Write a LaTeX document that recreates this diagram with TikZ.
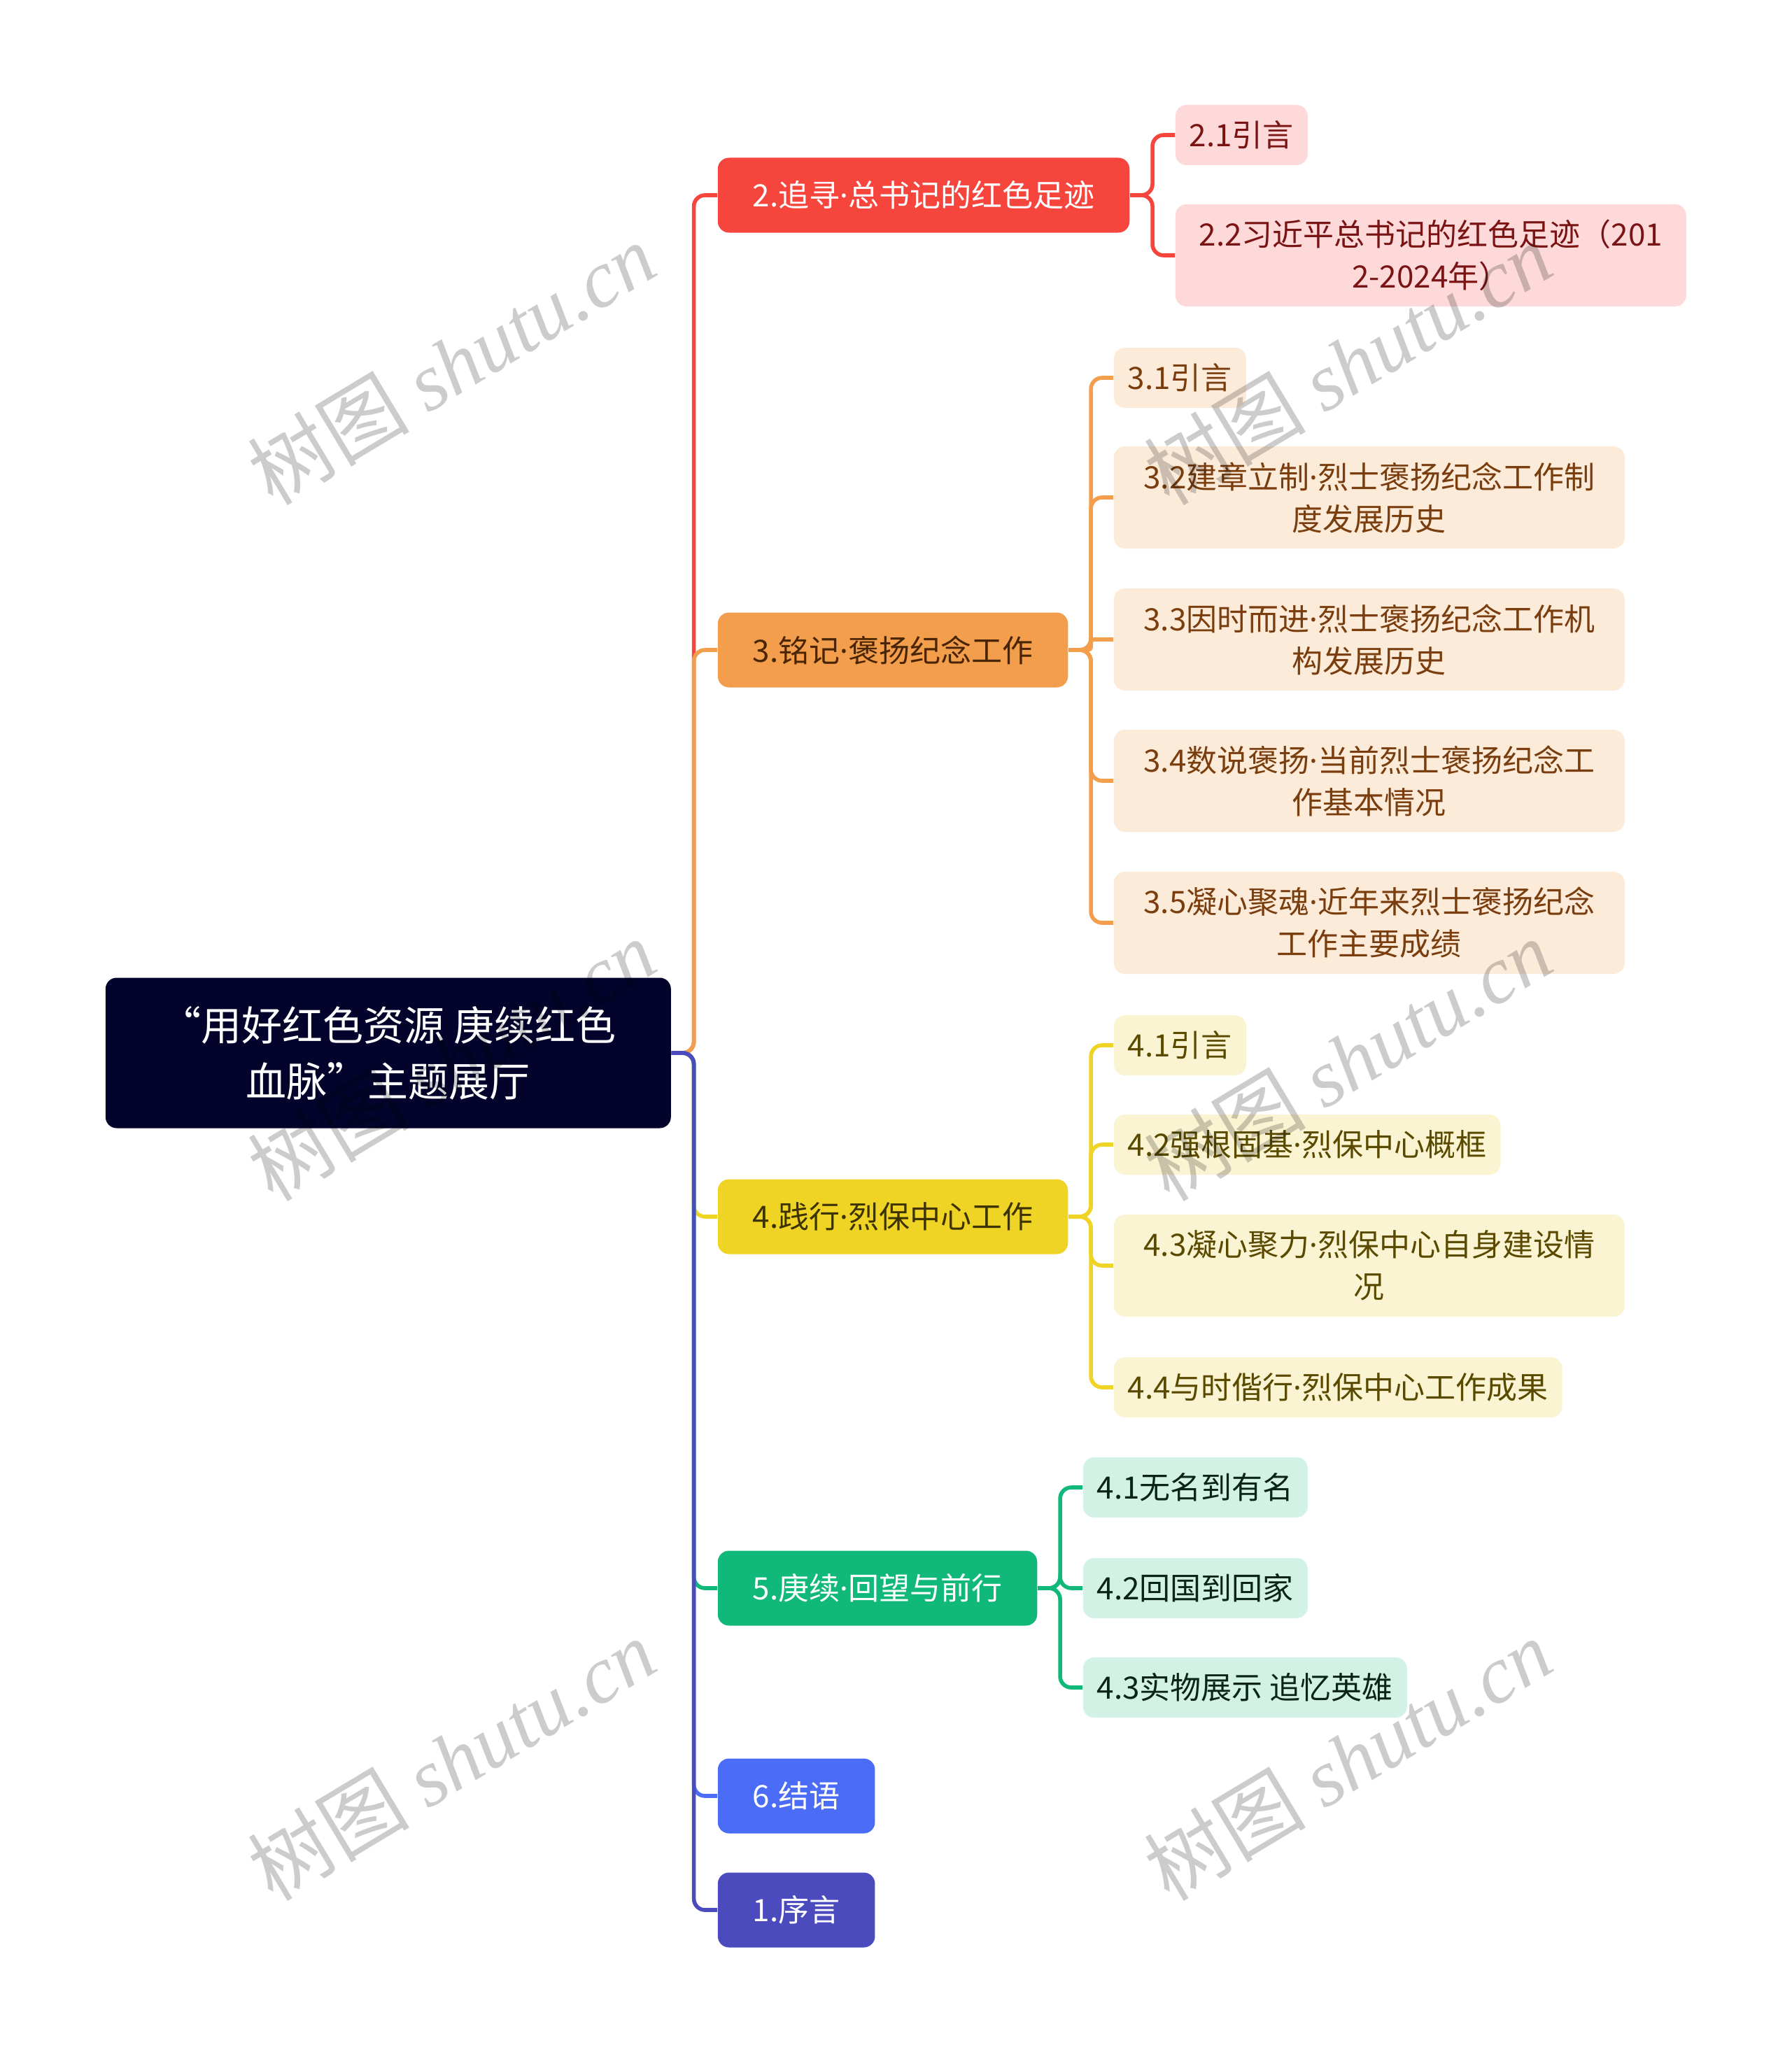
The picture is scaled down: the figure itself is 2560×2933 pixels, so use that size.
\documentclass[tikz,border=0pt]{standalone}
\usepackage{fontspec}
\setmainfont{Noto Sans CJK SC}
\newfontfamily\wmfont{Liberation Serif}
\newfontfamily\dotfont{Noto Sans}
\newcommand{\mdot}{{\dotfont ·}}
\usepackage{xcolor}

% 色の設定
\definecolor{rootbg}{HTML}{03032B}
\definecolor{redbg}{HTML}{F5453D}
\definecolor{redsub}{HTML}{FDD9D9}
\definecolor{redtxt}{HTML}{7A1414}
\definecolor{orgbg}{HTML}{F39E4C}
\definecolor{orgsub}{HTML}{FDEBDA}
\definecolor{orgtxt}{HTML}{7A3E0E}
\definecolor{orgdark}{HTML}{4A2505}
\definecolor{yelbg}{HTML}{F0D425}
\definecolor{yelsub}{HTML}{FBF4D3}
\definecolor{yeltxt}{HTML}{5A4A00}
\definecolor{yeldark}{HTML}{3D3300}
\definecolor{grnbg}{HTML}{10B97A}
\definecolor{grnsub}{HTML}{D2F2E5}
\definecolor{grntxt}{HTML}{0B2418}
\definecolor{bluebg}{HTML}{4A6CF7}
\definecolor{indbg}{HTML}{4B4BBE}

\tikzset{
  root/.style={fill=rootbg, text=white, rounded corners=4pt, anchor=west, align=center,
    minimum width=202pt, minimum height=53.75pt, font=\fontsize{14.5}{20}\selectfont},
  topic/.style={rounded corners=4pt, anchor=west, inner xsep=12.5pt,
    minimum height=26.75pt, font=\fontsize{11}{15}\selectfont},
  sub/.style={rounded corners=4pt, anchor=west, inner xsep=5pt, align=center,
    minimum height=21.5pt, font=\fontsize{11}{15}\selectfont},
  subwide/.style={sub, text width=172.5pt, minimum height=36.5pt},
  link/.style={line width=1.4pt, rounded corners=4pt},
  wm/.style={text=black, opacity=0.2, font=\fontsize{29}{29}\selectfont},
}

\begin{document}
\begin{tikzpicture}[x=0.25pt, y=-0.25pt]

  \useasboundingbox (0,0) rectangle (2560,2933);
  \fill[white] (0,0) rectangle (2560,2933);

  % 中心テーマ
  \node[root] (root) at (150,1505) {“用好红色资源 庚续红色\\血脉”主题展厅};

  % 第1階層
  \node[topic, fill=redbg, text=white]   (n2) at (1025,279)  {2.追寻\mdot 总书记的红色足迹};
  \node[topic, fill=orgbg, text=orgdark] (n3) at (1025,929)  {3.铭记\mdot 褒扬纪念工作};
  \node[topic, fill=yelbg, text=yeldark] (n4) at (1025,1739) {4.践行\mdot 烈保中心工作};
  \node[topic, fill=grnbg, text=white]   (n5) at (1025,2270) {5.庚续\mdot 回望与前行};
  \node[topic, fill=bluebg, text=white]  (n6) at (1025,2567) {6.结语};
  \node[topic, fill=indbg, text=white]   (n1) at (1025,2730) {1.序言};

  % 第2階層
  \node[sub, fill=redsub, text=redtxt]         (n21) at (1679,193) {2.1引言};
  \node[subwide, fill=redsub, text=redtxt]     (n22) at (1679,365) {2.2习近平总书记的红色足迹（201\\2-2024年）};

  \node[sub, fill=orgsub, text=orgtxt]         (n31) at (1591,540)  {3.1引言};
  \node[subwide, fill=orgsub, text=orgtxt]     (n32) at (1591,711)  {3.2建章立制\mdot 烈士褒扬纪念工作制\\度发展历史};
  \node[subwide, fill=orgsub, text=orgtxt]     (n33) at (1591,914)  {3.3因时而进\mdot 烈士褒扬纪念工作机\\构发展历史};
  \node[subwide, fill=orgsub, text=orgtxt]     (n34) at (1591,1116) {3.4数说褒扬\mdot 当前烈士褒扬纪念工\\作基本情况};
  \node[subwide, fill=orgsub, text=orgtxt]     (n35) at (1591,1319) {3.5凝心聚魂\mdot 近年来烈士褒扬纪念\\工作主要成绩};

  \node[sub, fill=yelsub, text=yeltxt]         (n41) at (1591,1494) {4.1引言};
  \node[sub, fill=yelsub, text=yeltxt]         (n42) at (1591,1636) {4.2强根固基\mdot 烈保中心概框};
  \node[subwide, fill=yelsub, text=yeltxt]     (n43) at (1591,1809) {4.3凝心聚力\mdot 烈保中心自身建设情\\况};
  \node[sub, fill=yelsub, text=yeltxt]         (n44) at (1591,1983) {4.4与时偕行\mdot 烈保中心工作成果};

  \node[sub, fill=grnsub, text=grntxt]         (n51) at (1547,2126) {4.1无名到有名};
  \node[sub, fill=grnsub, text=grntxt]         (n52) at (1547,2270) {4.2回国到回家};
  \node[sub, fill=grnsub, text=grntxt]         (n53) at (1547,2412) {4.3实物展示 追忆英雄};

  % 中心から第1階層へ
  \draw[link, redbg]  (root.east) -- ++(8pt,0) |- (n2.west);
  \draw[link, orgbg]  (root.east) -- ++(8pt,0) |- (n3.west);
  \draw[link, yelbg]  (root.east) -- ++(8pt,0) |- (n4.west);
  \draw[link, grnbg]  (root.east) -- ++(8pt,0) |- (n5.west);
  \draw[link, bluebg] (root.east) -- ++(8pt,0) |- (n6.west);
  \draw[link, indbg]  (root.east) -- ++(8pt,0) |- (n1.west);

  % 第1階層から第2階層へ
  \foreach \c in {21,22}
    \draw[link, redbg] (n2.east) -- ++(8pt,0) |- (n\c.west);
  \foreach \c in {31,32,34,35}
    \draw[link, orgbg] (n3.east) -- ++(8pt,0) |- (n\c.west);
  \draw[link, orgbg, rounded corners=1pt] (n3.east) -- ++(8pt,0) |- (n33.west);
  \foreach \c in {41,...,44}
    \draw[link, yelbg] (n4.east) -- ++(8pt,0) |- (n\c.west);
  \foreach \c in {51,52,53}
    \draw[link, grnbg] (n5.east) -- ++(8pt,0) |- (n\c.west);

  % 透かし
  \foreach \x in {645,1926}
    \foreach \y in {520,1515,2515}
      \node[wm, rotate=31] at (\x,\y) {树图 {\wmfont\itshape shutu.cn}};

\end{tikzpicture}
\end{document}
